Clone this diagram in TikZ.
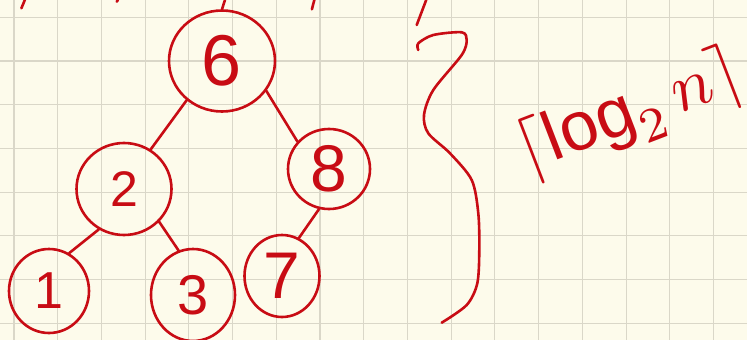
\documentclass[tikz,border=0pt]{standalone}
\usepackage{fontspec}
\setmainfont{Liberation Sans}
\usetikzlibrary{shapes.geometric}
\definecolor{ink}{RGB}{200,12,20}
\definecolor{paper}{RGB}{253,251,235}
\definecolor{gridc}{RGB}{218,215,200}
\begin{document}
\begin{tikzpicture}[x=1pt,y=-1pt,
  gridline/.style={draw=gridc, line width=1.1pt},
  tnode/.style={ellipse, draw=ink, line width=2.6pt, inner sep=0pt, text=ink},
  edge/.style={draw=ink, line width=2.6pt, line cap=round, line join=round}]
\fill[paper] (0,0) rectangle (747,340);
\useasboundingbox (0,0) rectangle (747,340);
\clip (0,0) rectangle (747,340);
% grid
\foreach \i in {0,...,16} \draw[gridline] ({14+43.72*\i},0) -- ++(0,340);
\foreach \j in {0,...,7} \draw[gridline] (0,{17.3+43.7*\j}) -- ++(747,0);
% tree nodes
\node[tnode, minimum width=106pt, minimum height=101pt, font=\fontsize{72}{72}\selectfont] (n6) at (222,61) {6};
\node[tnode, minimum width=95pt, minimum height=92pt, font=\fontsize{50}{50}\selectfont] (n2) at (124,189) {2};
\node[tnode, minimum width=82pt, minimum height=80pt, font=\fontsize{66}{66}\selectfont] (n8) at (329,169) {8};
\node[tnode, minimum width=80pt, minimum height=84pt, font=\fontsize{52}{52}\selectfont] (n1) at (49,291) {1};
\node[tnode, minimum width=84pt, minimum height=92pt, font=\fontsize{56}{56}\selectfont] (n3) at (193,295) {3};
\node[tnode, minimum width=75pt, minimum height=82pt, font=\fontsize{66}{66}\selectfont] (n7) at (282,276) {7};
% connectors
\coordinate (t6) at (225,0);
\draw[edge] (t6) -- (n6.north);
\draw[edge] (n6.-132) -- (n2.56);
\draw[edge] (n6.-34) -- (n8.139);
\draw[edge] (n2.-122) -- (n1.62);
\draw[edge] (n2.-43) -- (n3.108);
\draw[edge] (n8.-104) -- (n7.66);
% small stroke remnants at the top
\coordinate (s1a) at (21.4,8.3); \coordinate (s1b) at (24.8,0);
\coordinate (s2a) at (116.7,1.7); \coordinate (s2b) at (118,0);
\coordinate (s3a) at (311.9,9.3); \coordinate (s3b) at (314.3,0);
\coordinate (s4a) at (416.7,25); \coordinate (s4b) at (426.2,0);
\draw[edge] (s1a) -- (s1b);
\draw[edge] (s2a) -- (s2b);
\draw[edge] (s3a) -- (s3b);
\draw[edge] (s4a) -- (s4b);
% brace
\draw[edge] plot[smooth] coordinates {(418.3,50) (418.3,43.3) (433.3,35) (461.7,32.3) (466.7,40) (461.7,55) (433.3,90) (424,115) (428.3,133.3) (450,153.3) (471.7,180) (478.3,213.3) (479.3,250) (477.3,283.3) (466.7,305) (441.7,322.7)};
% height label
\node[text=ink, rotate=21, inner sep=0pt] (lg) at (630,114) {\scalebox{6.9}{$\lceil \log_2 n\rceil$}};
\end{tikzpicture}
\end{document}
